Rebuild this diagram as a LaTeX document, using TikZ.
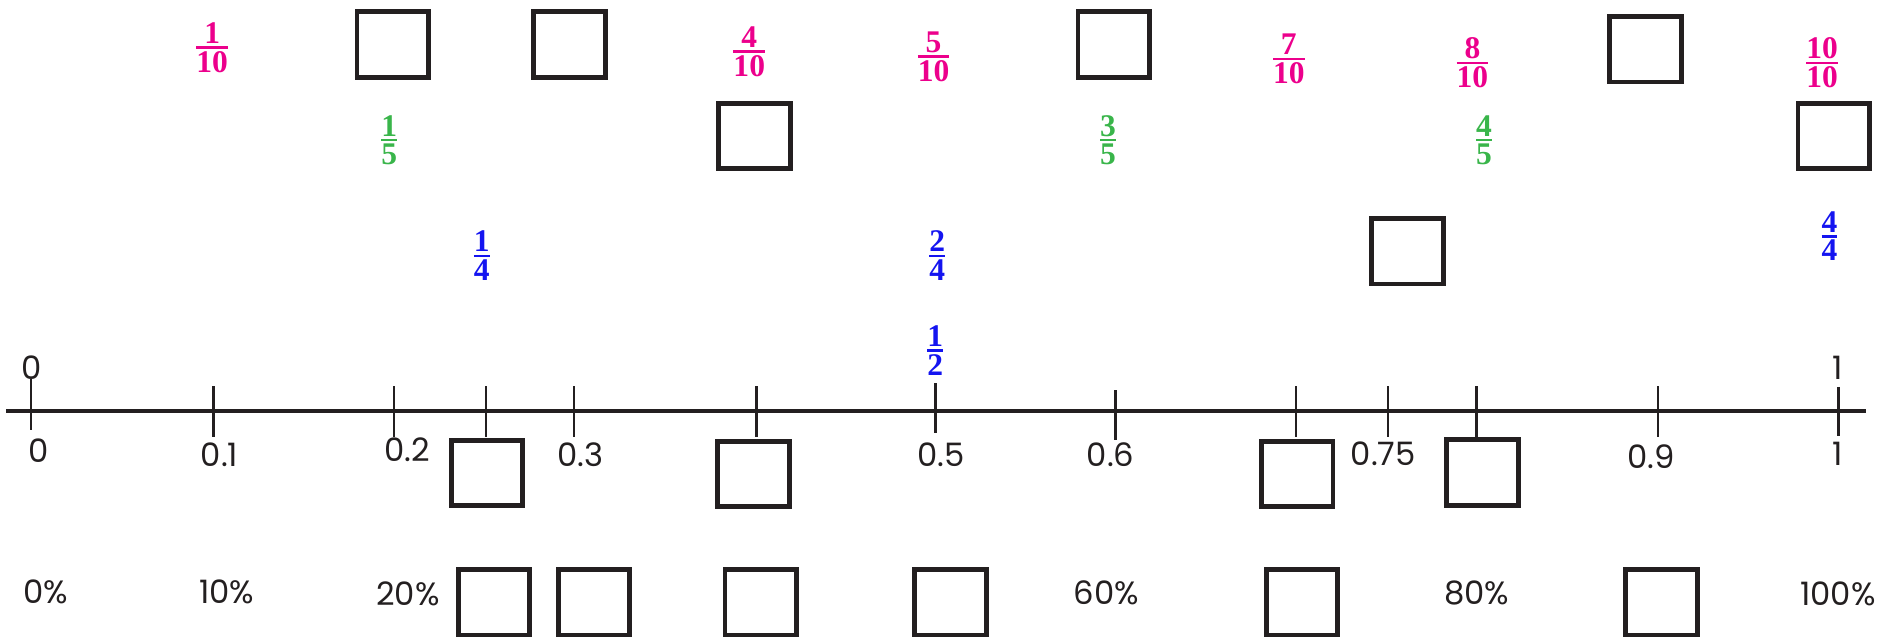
\documentclass[tikz,border=0pt]{standalone}
\usepackage{amsmath}
\usepackage{fontspec}
\newfontfamily\popfont{Poppins}
\newfontfamily\frfont{Liberation Serif}
\definecolor{boxblack}{RGB}{35,31,32}
\definecolor{fpink}{RGB}{236,0,140}
\definecolor{fgreen}{RGB}{57,181,74}
\definecolor{fblue}{RGB}{20,20,240}
\newcommand\fr[2]{$\genfrac{}{}{1pt}{1}{\hbox{#1}}{\hbox{#2}}$}
\tikzset{
  ansbox/.style={draw=boxblack, line width=2pt, minimum width=29.5pt, minimum height=27pt, inner sep=0pt},
  lbl/.style={font=\popfont\fontsize{13.3}{15}\selectfont, text=boxblack, inner sep=0pt},
  frc/.style={font=\frfont\bfseries\fontsize{13}{15}\selectfont, text=#1, inner sep=0pt},
  axisline/.style={draw=boxblack, line width=1.75pt},
  tickmark/.style={draw=boxblack, line width=1pt}
}
\begin{document}
\begin{tikzpicture}[x=0.5pt, y=-0.5pt]
\useasboundingbox (0,0) rectangle (1568,526);
% axis
\coordinate (axL) at (5,339);
\coordinate (axR) at (1539,339);
\draw[axisline] (axL) -- (axR);
% ticks
\draw[tickmark] (25.6,313) -- (25.6,355);
\foreach \x in {176,324.9,400.8,473.6,624,1069,1145,1218,1367.5}
  \draw[tickmark] (\x,318.4) -- (\x,360.4);
\draw[tickmark] (771.5,316) -- (771.5,357.5);
\draw[tickmark] (920,321.7) -- (920,363);
\draw[tickmark] (1516.5,319) -- (1516.5,360);
% labels above axis
\node[lbl] (zeroA) at (26,303) {0};
\node[lbl] (oneA) at (1516,303) {1};
% decimal labels
\node[lbl] (d0) at (32,372) {0};
\node[lbl] (d1) at (181,375) {0.1};
\node[lbl] (d2) at (336,371) {0.2};
\node[lbl] (d3) at (479,375) {0.3};
\node[lbl] (d5) at (776,375) {0.5};
\node[lbl] (d6) at (916,375) {0.6};
\node[lbl] (d75) at (1141,374) {0.75};
\node[lbl] (d9) at (1362,377) {0.9};
\node[lbl] (d10) at (1516,374) {1};
% percent labels
\node[lbl] (p0) at (38,488) {0\%};
\node[lbl] (p10) at (187,488) {10\%};
\node[lbl] (p20) at (336.5,490) {20\%};
\node[lbl] (p60) at (912.5,489) {60\%};
\node[lbl] (p80) at (1218,489) {80\%};
\node[lbl] (p100) at (1516,490) {100\%};
% tenths
\node[frc=fpink] (t1) at (175,39.3) {\fr{1}{10}};
\node[frc=fpink] (t4) at (618,42.6) {\fr{4}{10}};
\node[frc=fpink] (t5) at (770,46.7) {\fr{5}{10}};
\node[frc=fpink] (t7) at (1063,48.7) {\fr{7}{10}};
\node[frc=fpink] (t8) at (1214.5,51.7) {\fr{8}{10}};
\node[frc=fpink] (t10) at (1503,51.7) {\fr{10}{10}};
% fifths
\node[frc=fgreen] (v1) at (321,115.5) {\fr{1}{5}};
\node[frc=fgreen] (v3) at (914,115.5) {\fr{3}{5}};
\node[frc=fgreen] (v4) at (1224,115.5) {\fr{4}{5}};
% quarters
\node[frc=fblue] (q1) at (397.4,211) {\fr{1}{4}};
\node[frc=fblue] (q2) at (773,211) {\fr{2}{4}};
\node[frc=fblue] (q4) at (1509,194.7) {\fr{4}{4}};
\node[frc=fblue] (h1) at (771.5,289) {\fr{1}{2}};
% answer boxes
\node[ansbox] (bA) at (324,36.7) {};
\node[ansbox] (bB) at (469.6,36.7) {};
\node[ansbox] (bC) at (918.6,36.7) {};
\node[ansbox] (bD) at (1357.3,40.6) {};
\node[ansbox] (bE) at (622.4,112.3) {};
\node[ansbox] (bF) at (1512.5,112.3) {};
\node[ansbox] (bG) at (1161,207.3) {};
\node[ansbox] (bH) at (401.8,390) {};
\node[ansbox] (bI) at (621.5,391) {};
\node[ansbox] (bJ) at (1070,391) {};
\node[ansbox] (bK) at (1222.7,389.8) {};
\node[ansbox] (bL) at (407.5,496.8) {};
\node[ansbox] (bM) at (490,496.8) {};
\node[ansbox] (bN) at (627.5,496.8) {};
\node[ansbox] (bO) at (784,496.8) {};
\node[ansbox] (bP) at (1074,496.8) {};
\node[ansbox] (bQ) at (1370.5,496.8) {};
\end{tikzpicture}
\end{document}
